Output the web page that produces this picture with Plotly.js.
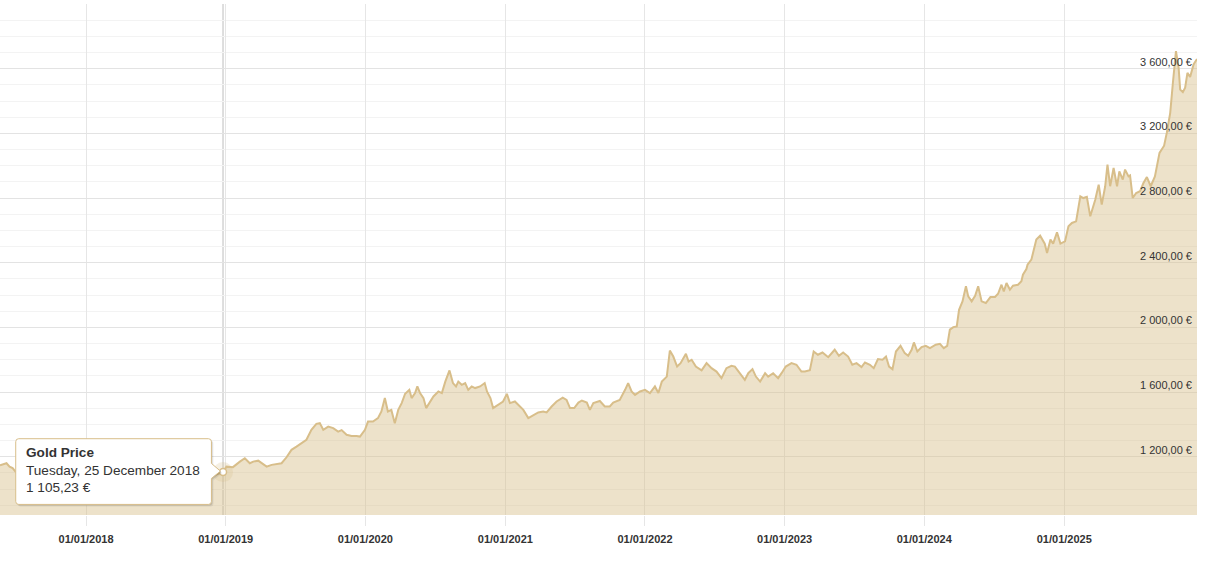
<!DOCTYPE html>
<html>
<head>
<meta charset="utf-8">
<script src="https://cdn.plot.ly/plotly-3.0.1.min.js"></script>
<style>
html,body{margin:0;padding:0;background:#fff;}
#chart{width:1211px;height:563px;}
</style>
</head>
<body>
<div id="chart"></div>
<script>
// ---- Data ----
const dates = [
'2017-05-21','2017-06-07','2017-06-15','2017-06-23','2017-07-05','2017-07-15','2017-07-28','2017-08-10','2017-08-25','2017-09-08',
'2017-09-20','2017-10-05','2017-10-20','2017-11-03','2017-11-17','2017-12-01','2017-12-12','2017-12-29','2018-01-12','2018-01-26',
'2018-02-09','2018-02-23','2018-03-09','2018-03-23','2018-04-06','2018-04-20','2018-05-04','2018-05-18','2018-06-01','2018-06-15',
'2018-06-29','2018-07-13','2018-07-27','2018-08-10','2018-08-17','2018-08-31','2018-09-14','2018-09-28','2018-10-12','2018-10-26',
'2018-11-09','2018-11-23','2018-12-07','2018-12-18','2018-12-25',
'2019-01-03','2019-01-20','2019-02-07','2019-02-20','2019-03-05','2019-03-14','2019-03-27','2019-04-05','2019-04-18','2019-05-01',
'2019-05-14','2019-05-27','2019-06-09','2019-06-22','2019-07-05','2019-07-18','2019-07-31','2019-08-13','2019-08-26','2019-09-04',
'2019-09-13','2019-09-26','2019-10-09','2019-10-22','2019-10-31','2019-11-13','2019-11-26','2019-12-09','2019-12-18','2019-12-31',
'2020-01-08','2020-01-21','2020-02-03','2020-02-12','2020-02-21','2020-02-29','2020-03-09','2020-03-18','2020-03-27','2020-04-05',
'2020-04-14','2020-04-25','2020-05-01','2020-05-10','2020-05-16','2020-05-23','2020-06-01','2020-06-08','2020-06-18','2020-06-27',
'2020-07-10','2020-07-19','2020-07-28','2020-08-08','2020-08-17','2020-08-25','2020-08-31','2020-09-09','2020-09-18','2020-09-26',
'2020-10-05','2020-10-14','2020-10-27','2020-11-08','2020-11-14','2020-11-23','2020-11-30','2020-12-13','2020-12-26',
'2021-01-05','2021-01-13','2021-01-26','2021-02-04','2021-02-17','2021-03-02','2021-03-15','2021-03-28','2021-04-10','2021-04-19',
'2021-05-02','2021-05-15','2021-05-31','2021-06-10','2021-06-19','2021-06-30','2021-07-11','2021-07-20','2021-08-02','2021-08-10',
'2021-08-19','2021-09-05','2021-09-18','2021-10-01','2021-10-10','2021-10-27','2021-11-10','2021-11-18','2021-11-27','2021-12-06',
'2021-12-19',
'2022-01-01','2022-01-14','2022-01-27','2022-02-05','2022-02-14','2022-02-27','2022-03-07','2022-03-16','2022-03-26','2022-04-04',
'2022-04-11','2022-04-18','2022-04-25','2022-05-03','2022-05-14','2022-05-29','2022-06-11','2022-06-24','2022-07-07','2022-07-20',
'2022-08-02','2022-08-15','2022-08-24','2022-09-06','2022-09-19','2022-09-28','2022-10-09','2022-10-18','2022-10-29','2022-11-11',
'2022-11-19','2022-12-02','2022-12-15','2022-12-24',
'2023-01-04','2023-01-19','2023-02-01','2023-02-14','2023-02-23','2023-03-08','2023-03-18','2023-03-29','2023-04-10','2023-04-25',
'2023-05-12','2023-05-23','2023-06-03','2023-06-16','2023-06-27','2023-07-08','2023-07-21','2023-07-30','2023-08-12','2023-08-22',
'2023-09-02','2023-09-14','2023-09-23','2023-10-01','2023-10-10','2023-10-19','2023-10-31','2023-11-11','2023-11-20','2023-11-29',
'2023-12-05','2023-12-14','2023-12-25',
'2024-01-05','2024-01-16','2024-01-31','2024-02-11','2024-02-21','2024-03-01','2024-03-08','2024-03-17','2024-03-26','2024-04-01',
'2024-04-10','2024-04-19','2024-04-25','2024-05-04','2024-05-13','2024-05-21','2024-05-30','2024-06-10','2024-06-22','2024-07-04',
'2024-07-12','2024-07-21','2024-07-27','2024-08-03','2024-08-12','2024-08-20','2024-09-02','2024-09-11','2024-09-15','2024-09-24',
'2024-09-27','2024-10-07','2024-10-20','2024-10-30','2024-11-11','2024-11-17','2024-11-26','2024-12-03','2024-12-13','2024-12-22',
'2025-01-03','2025-01-12','2025-01-21','2025-02-01','2025-02-12','2025-02-20','2025-03-01','2025-03-10','2025-03-23','2025-04-01',
'2025-04-09','2025-04-18','2025-04-24','2025-05-01','2025-05-10','2025-05-19','2025-05-25','2025-06-03','2025-06-09','2025-06-18',
'2025-06-22','2025-06-29','2025-07-08','2025-07-18','2025-07-27','2025-08-05','2025-08-15','2025-08-26','2025-09-07','2025-09-19',
'2025-09-26','2025-10-05','2025-10-12','2025-10-20','2025-10-27','2025-10-31','2025-11-07','2025-11-13','2025-11-19','2025-11-26',
'2025-12-05','2025-12-14'
];
const prices = [
1148,1160,1139,1130,1095,1075,1078,1090,1085,1120,
1095,1083,1090,1095,1088,1080,1058,1080,1098,1090,
1078,1075,1070,1090,1083,1090,1095,1100,1108,1100,
1075,1060,1055,1050,1030,1035,1033,1040,1065,1085,
1075,1080,1090,1100,1105.23,
1139,1136,1170,1191,1160,1170,1176,1160,1139,1150,
1156,1160,1197,1243,1263,1284,1305,1367,1404,1408,
1367,1387,1377,1356,1365,1336,1329,1329,1325,1367,
1418,1418,1439,1480,1563,1480,1490,1408,1490,1532,
1590,1614,1563,1594,1635,1594,1563,1501,1542,1573,
1604,1594,1665,1734,1656,1635,1665,1645,1656,1614,
1635,1625,1635,1656,1604,1563,1501,1521,1542,
1589,1532,1542,1521,1490,1439,1459,1474,1480,1474,
1511,1542,1566,1552,1501,1501,1535,1548,1535,1490,
1532,1545,1511,1511,1535,1552,1614,1656,1604,1583,
1604,
1614,1594,1635,1594,1665,1696,1857,1820,1758,1779,
1810,1837,1789,1800,1758,1734,1779,1748,1727,1686,
1748,1763,1758,1717,1676,1717,1742,1696,1665,1717,
1696,1717,1686,1717,
1758,1779,1769,1727,1727,1735,1851,1831,1845,1816,
1862,1825,1845,1820,1769,1779,1755,1783,1769,1748,
1804,1800,1820,1758,1742,1851,1886,1841,1825,1862,
1907,1851,1878,
1886,1872,1893,1899,1872,1886,1986,2002,2006,2109,
2161,2254,2192,2161,2196,2254,2161,2151,2188,2188,
2208,2264,2222,2275,2233,2258,2264,2285,2326,2361,
2388,2419,2543,2567,2518,2460,2543,2518,2588,2518,
2532,2625,2646,2656,2811,2800,2807,2687,2790,2883,
2759,2873,3007,2873,2986,2873,2965,2914,2976,2934,
2940,2800,2831,2842,2893,2930,2873,2934,3079,3124,
3203,3327,3513,3708,3605,3471,3455,3482,3574,3549,
3626,3660
];
const seriesName = 'Gold Price';
const hoverDate = '2018-12-25';
const hoverPrice = 1105.23;
const hoverLabelDate = 'Tuesday, 25 December 2018';
const hoverLabelValue = '1 105,23 €';
const xTickVals = ['2018-01-01','2019-01-01','2020-01-01','2021-01-01','2022-01-01','2023-01-01','2024-01-01','2025-01-01'];
const yTickVals = [1200,1600,2000,2400,2800,3200,3600,4000];
const yTickText = ['1 200,00 €','1 600,00 €','2 000,00 €','2 400,00 €','2 800,00 €','3 200,00 €','3 600,00 €',''];

// ---- Styles ----
const gold = 'rgb(216,190,138)';
const font = 'Liberation Sans, Arial, sans-serif';

const traces = [
  {
    type: 'scatter', mode: 'lines', x: dates, y: prices, name: seriesName,
    line: {color: gold, width: 2}, fill: 'tozeroy', fillcolor: 'rgba(216,190,138,0.45)',
    hoverinfo: 'skip'
  },
  {
    type: 'scatter', mode: 'markers', x: [hoverDate], y: [hoverPrice],
    marker: {size: 20, color: 'rgba(216,190,138,0.25)'}, hoverinfo: 'skip'
  },
  {
    type: 'scatter', mode: 'markers', x: [hoverDate], y: [hoverPrice],
    marker: {size: 7, color: '#ffffff', line: {color: gold, width: 1.5}}, hoverinfo: 'skip'
  }
];

// tooltip outline, in pixels relative to the hovered point
const boxPath = (dx, dy) => {
  const L = -207.3 + dx, R = -11.6 + dx, T = 33.4 + dy, B = -32.3 + dy, r = 3;
  return `M ${L + r},${T} L ${R - r},${T} Q ${R},${T} ${R},${T - r} L ${R},${8.7 + dy} L ${-2.6 + dx},${1 + dy} L ${R},${-6.3 + dy} ` +
         `L ${R},${B + r} Q ${R},${B} ${R - r},${B} L ${L + r},${B} Q ${L},${B} ${L},${B + r} L ${L},${T - r} Q ${L},${T} ${L + r},${T} Z`;
};
const pixShape = (path, fill, line) => ({
  type: 'path', xref: 'x', yref: 'y', xsizemode: 'pixel', ysizemode: 'pixel',
  xanchor: hoverDate, yanchor: hoverPrice, path: path, fillcolor: fill,
  line: line, layer: 'above'
});

const layout = {
  width: 1211, height: 563,
  margin: {l: 0, r: 14, t: 4, b: 48},
  paper_bgcolor: '#ffffff', plot_bgcolor: '#ffffff',
  showlegend: false, hovermode: false,
  separators: ', ',
  font: {family: font, color: '#333333'},
  xaxis: {
    type: 'date', range: ['2017-05-21', '2025-12-14'],
    tickmode: 'array', tickvals: xTickVals, tickformat: '%d/%m/%Y',
    ticks: 'outside', ticklen: 10, tickcolor: '#e6e6e6', tickwidth: 1,
    showgrid: true, gridcolor: '#e6e6e6', gridwidth: 1,
    showline: false, zeroline: false,
    tickfont: {size: 11, color: '#333333', family: font, weight: 'bold'},
    ticklabelstandoff: 4, fixedrange: true
  },
  yaxis: {
    range: [840, 4000], side: 'right',
    tickmode: 'array', tickvals: yTickVals, ticktext: yTickText,
    ticklabelposition: 'inside', ticklabelshift: -7, ticklabelstandoff: 2, ticks: '',
    showgrid: true, gridcolor: '#e3e3e3', gridwidth: 1,
    minor: {tickmode: 'linear', tick0: 0, dtick: 100, showgrid: true, gridcolor: '#f3f3f3', ticks: ''},
    showline: false, zeroline: false,
    tickfont: {size: 11, color: '#333333', family: font},
    fixedrange: true
  },
  shapes: [
    {type: 'line', xref: 'x', yref: 'paper', x0: hoverDate, x1: hoverDate, y0: 0, y1: 1,
     line: {color: '#bdbdbd', width: 1}, layer: 'below'},
    pixShape(boxPath(2, -2), 'rgba(0,0,0,0.07)', {width: 0}),
    pixShape(boxPath(1, -1), 'rgba(0,0,0,0.12)', {width: 0}),
    pixShape(boxPath(0, 0), '#ffffff', {color: gold, width: 1})
  ],
  annotations: [
    {xref: 'x', yref: 'y', x: hoverDate, y: hoverPrice, xanchor: 'left', yanchor: 'middle',
     xshift: -199, yshift: 2, showarrow: false, align: 'left',
     text: '<b>' + seriesName + '</b><br>' + hoverLabelDate + '<br>' + hoverLabelValue,
     font: {family: font, size: 13.6, color: '#333333'}}
  ]
};

Plotly.newPlot('chart', traces, layout, {displayModeBar: false, staticPlot: true});
</script>
</body>
</html>
